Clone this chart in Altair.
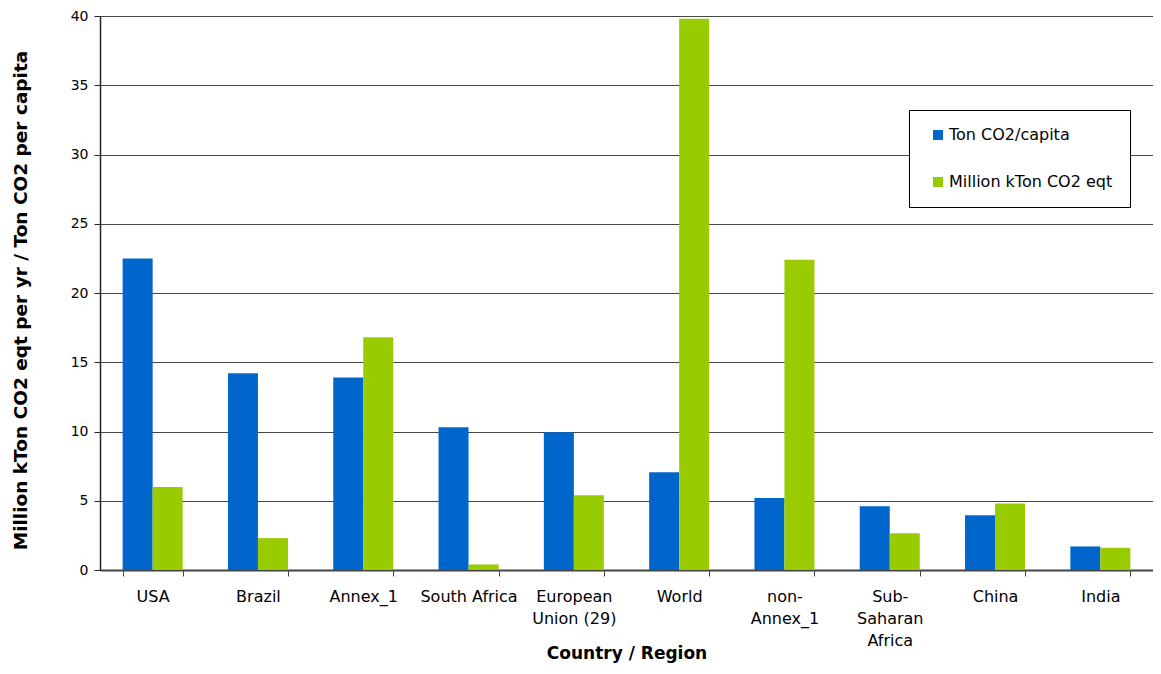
import altair as alt
import pandas as pd

categories = ["USA", "Brazil", "Annex_1", "South Africa", "European Union (29)",
              "World", "non-Annex_1", "Sub-Saharan Africa", "China", "India"]
label_lines = [["USA"], ["Brazil"], ["Annex_1"], ["South Africa"],
               ["European", "Union (29)"], ["World"], ["non-", "Annex_1"],
               ["Sub-", "Saharan", "Africa"], ["China"], ["India"]]
ton_per_capita = [22.5, 14.2, 13.9, 10.3, 9.95, 7.05, 5.2, 4.6, 3.95, 1.7]
mkton_eqt = [6.0, 2.3, 16.8, 0.4, 5.4, 39.8, 22.4, 2.65, 4.8, 1.6]
series = ["Ton CO2/capita", "Million kTon CO2 eqt"]
colors = ["#0066CC", "#99CC00"]
y_ticks = [0, 5, 10, 15, 20, 25, 30, 35, 40]

rows = []
for c, a, b in zip(categories, ton_per_capita, mkton_eqt):
    rows.append({"cat": c, "series": series[0], "value": a})
    rows.append({"cat": c, "series": series[1], "value": b})
df = pd.DataFrame(rows)

expr = "datum.label"
for c, lines in reversed(list(zip(categories, label_lines))):
    arr = "[" + ",".join("'" + s + "'" for s in lines) + "]"
    expr = f"datum.value == '{c}' ? {arr} : ({expr})"

font = "DejaVu Sans"

chart = alt.Chart(df).mark_bar().encode(
    x=alt.X("cat:N", sort=categories,
            scale=alt.Scale(paddingInner=0.43, paddingOuter=0.215),
            axis=alt.Axis(title="Country / Region", labelAngle=0, labelExpr=expr,
                          labelFontSize=16, labelFont=font, labelColor="#000",
                          labelPadding=12, labelLineHeight=22, labelBaseline="top",
                          tickBand="extent", tickSize=6, tickColor="#444",
                          domainColor="#444", domainWidth=2,
                          titleFont=font, titleFontSize=17, titleFontWeight="bold",
                          titleColor="#000", titleY=83, titleBaseline="middle",
                          grid=False)),
    xOffset=alt.XOffset("series:N", sort=series, scale=alt.Scale(paddingInner=0, paddingOuter=0)),
    y=alt.Y("value:Q", scale=alt.Scale(domain=[0, 40], nice=False),
            axis=alt.Axis(title="Million kTon CO2 eqt per yr / Ton CO2 per capita",
                          values=y_ticks, labelFontSize=14, labelFont=font,
                          labelColor="#000", labelPadding=6, tickSize=6,
                          tickColor="#222", domainColor="#222", domainWidth=1.5,
                          gridColor="#444", gridWidth=1,
                          titleFont=font, titleFontSize=18.5, titleFontWeight="bold",
                          titleColor="#000", titlePadding=40, titleY=284)),
    color=alt.Color("series:N", sort=series,
                    scale=alt.Scale(domain=series, range=colors),
                    legend=alt.Legend(title=None, orient="none", legendX=809, legendY=94,
                                      fillColor="white", strokeColor="#000",
                                      padding=17, rowPadding=31, labelFontSize=16,
                                      labelFont=font, labelColor="#000", labelLimit=400,
                                      symbolType="square", symbolSize=100,
                                      symbolStrokeWidth=0, labelOffset=3,
                                      symbolOffset=4)),
).properties(
    width=1053, height=554,
    autosize=alt.AutoSizeParams(type="none"),
    padding={"left": 92, "top": 8, "right": 0, "bottom": 96},
).configure_view(stroke=None).configure(background="white")

chart.save("out.html", embed_options={"renderer": "svg", "actions": False})
